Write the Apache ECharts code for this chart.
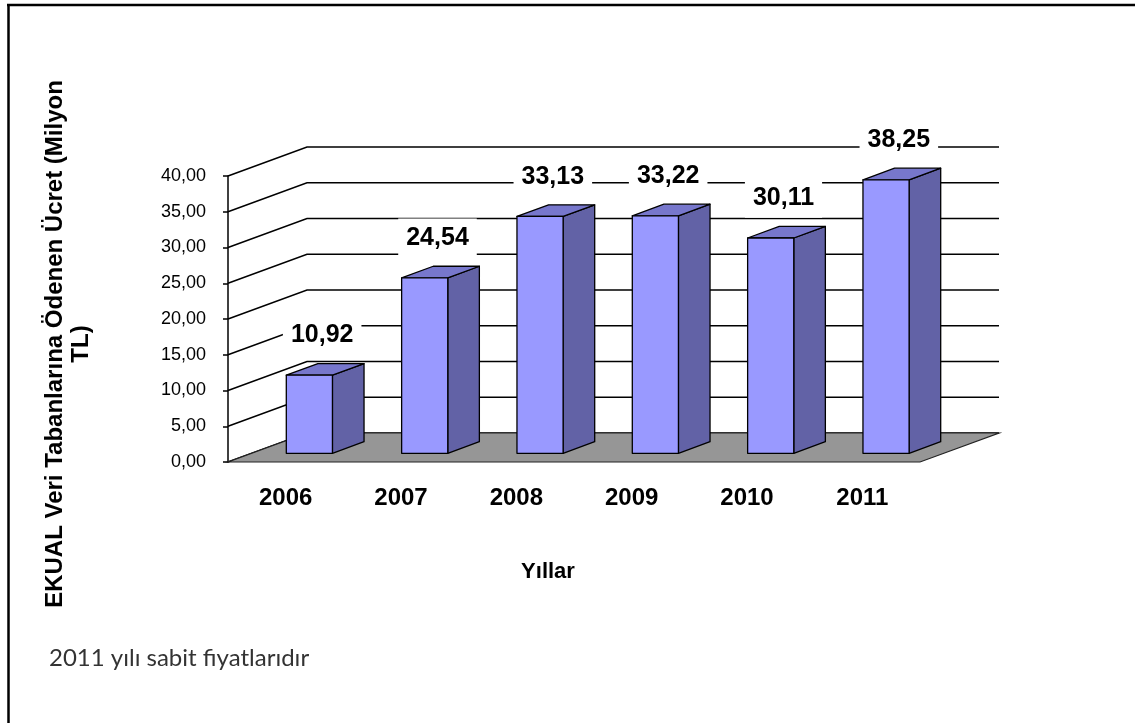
<!DOCTYPE html>
<html>
<head>
<meta charset="utf-8">
<script src="https://cdn.jsdelivr.net/npm/echarts@6/dist/echarts.min.js"></script>
<style>
  html, body { margin: 0; padding: 0; background: #fff; }
  #chart { width: 1135px; height: 723px; }
</style>
</head>
<body>
<div id="chart"></div>
<script>
// ---- data ----
const years = ['2006', '2007', '2008', '2009', '2010', '2011'];
const values = [10.92, 24.54, 33.13, 33.22, 30.11, 38.25];
const yMin = 0, yMax = 40, yStep = 5;
const yTitle = 'EKUAL Veri Tabanlarına Ödenen Ücret (Milyon\nTL)';
const xTitle = 'Yıllar';
const footnote = '2011 yılı sabit fiyatlarıdır';

// ---- style / 3D projection constants ----
const DEPTH = [79, -29];          // pixel offset from front plane to back wall
const BAR_W = 0.4;                // bar width as share of category band
const F0 = 0.3, F1 = 0.7;         // bar depth range (share of full depth)
const C_FRONT = '#9999FF', C_SIDE = '#6262A6', C_TOP = '#7777CC';
const C_FLOOR = '#969696';
const FONT = '"Liberation Sans", Arial, sans-serif';

const fmt = v => v.toFixed(2).replace('.', ',');
const ticks = [];
for (let t = yMin; t <= yMax + 1e-9; t += yStep) ticks.push(t);

const off = (p, f, dx) => [p[0] + (dx || 0) + DEPTH[0] * f, p[1] + DEPTH[1] * f];

function renderGrid(params, api) {
  const cs = params.coordSys;
  const y = api.coord([0, api.value(1)])[1];
  return {
    type: 'polyline',
    shape: { points: [[cs.x, y], [cs.x + DEPTH[0], y + DEPTH[1]], [cs.x + cs.width + DEPTH[0], y + DEPTH[1]]] },
    style: { stroke: '#000', lineWidth: 1.5, fill: null }
  };
}

function renderFloor(params, api) {
  const cs = params.coordSys;
  const y = api.coord([0, yMin])[1];
  const a = [cs.x, y], b = [cs.x + cs.width, y];
  return {
    type: 'polygon',
    shape: { points: [a, b, off(b, 1), off(a, 1)] },
    style: { fill: C_FLOOR, stroke: '#222', lineWidth: 1.2 }
  };
}

function renderBar(params, api) {
  const i = api.value(0), v = api.value(1);
  const base = api.coord([i, yMin]);
  const top = api.coord([i, v]);
  const hw = api.size([1, 0])[0] * BAR_W / 2;
  const fbl = off(base, F0, -hw), fbr = off(base, F0, hw);
  const ftl = off(top, F0, -hw), ftr = off(top, F0, hw);
  const bbr = off(base, F1, hw), btl = off(top, F1, -hw), btr = off(top, F1, hw);
  const st = fill => ({ fill: fill, stroke: '#000', lineWidth: 1.3, lineJoin: 'round' });
  return {
    type: 'group',
    children: [
      { type: 'polygon', shape: { points: [fbr, bbr, btr, ftr] }, style: st(C_SIDE) },
      { type: 'polygon', shape: { points: [ftl, ftr, btr, btl] }, style: st(C_TOP) },
      { type: 'polygon', shape: { points: [fbl, fbr, ftr, ftl] }, style: st(C_FRONT) }
    ]
  };
}

function renderLabel(params, api) {
  const i = api.value(0), v = api.value(1);
  const p = off(api.coord([i, v]), 0.5, -3);
  return {
    type: 'text',
    x: p[0], y: p[1] - 34,
    style: {
      text: fmt(v), font: 'bold 25px ' + FONT, fill: '#000',
      align: 'center', verticalAlign: 'middle',
      backgroundColor: '#fff', padding: [7, 8]
    }
  };
}

const chart = echarts.init(document.getElementById('chart'), null, { renderer: 'canvas' });
chart.setOption({
  backgroundColor: '#fff',
  animation: false,
  grid: { left: 228, top: 176, width: 692, height: 286, containLabel: false },
  xAxis: {
    type: 'category', data: years,
    axisLine: { show: false }, axisTick: { show: false },
    axisLabel: { fontSize: 24, fontWeight: 'bold', fontFamily: FONT, color: '#000', margin: 24 },
    name: xTitle, nameLocation: 'middle', nameGap: 99,
    nameTextStyle: { fontSize: 22, fontWeight: 'bold', fontFamily: FONT, color: '#000', padding: [0, 52, 0, 0] }
  },
  yAxis: {
    type: 'value', min: yMin, max: yMax, interval: yStep,
    axisLine: { show: true, lineStyle: { color: '#000', width: 1.5 } },
    axisTick: { show: true, length: 5, lineStyle: { color: '#000', width: 1.5 } },
    axisLabel: { formatter: fmt, fontSize: 18, fontFamily: FONT, color: '#000', margin: 22 },
    splitLine: { show: false },
    name: yTitle, nameLocation: 'middle', nameGap: 134, nameRotate: 90,
    nameTextStyle: { fontSize: 24, fontWeight: 'bold', fontFamily: FONT, color: '#000', lineHeight: 26, padding: [0, 50, 0, 0] }
  },
  series: [
    { type: 'custom', name: 'grid', z: 1, silent: true, renderItem: renderGrid, data: ticks.map(t => [0, t]), encode: { x: 0, y: 1 } },
    { type: 'custom', name: 'floor', z: 2, silent: true, renderItem: renderFloor, data: [[0, yMin]], encode: { x: 0, y: 1 } },
    { type: 'custom', name: 'bars', z: 3, renderItem: renderBar, data: values.map((v, i) => [i, v]), encode: { x: 0, y: 1 } },
    { type: 'custom', name: 'labels', z: 4, silent: true, renderItem: renderLabel, data: values.map((v, i) => [i, v]), encode: { x: 0, y: 1 } }
  ],
  graphic: [
    { type: 'line', shape: { x1: 7, y1: 5, x2: 1135, y2: 5 }, style: { stroke: '#000', lineWidth: 2.5 } },
    { type: 'line', shape: { x1: 8.5, y1: 4, x2: 8.5, y2: 723 }, style: { stroke: '#000', lineWidth: 2.5 } },
    { type: 'text', left: 49, top: 646, style: { text: footnote, font: '24px Lato, "Open Sans", sans-serif', fill: '#333' } }
  ]
});
</script>
</body>
</html>
